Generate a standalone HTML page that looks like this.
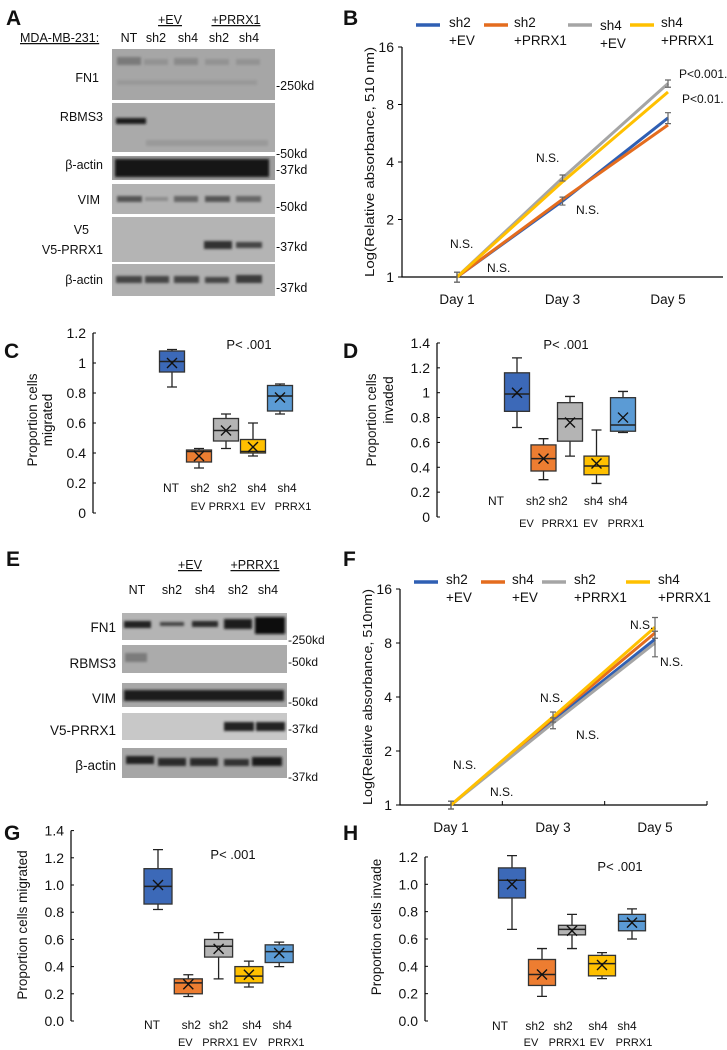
<!DOCTYPE html>
<html><head><meta charset="utf-8"><title>Figure</title>
<style>
html,body{margin:0;padding:0;background:#fff;}
svg{display:block;font-family:"Liberation Sans",sans-serif;}
text{fill:#111;}
</style></head>
<body>
<svg id="fig" width="727" height="1050" viewBox="0 0 727 1050">
<defs><filter id="bl" x="-20%" y="-50%" width="140%" height="200%"><feGaussianBlur stdDeviation="1.4"/></filter></defs>

<g font-weight="bold" font-size="21">
<text x="6" y="25">A</text>
<text x="343" y="25">B</text>
<text x="4" y="358">C</text>
<text x="343" y="358">D</text>
<text x="6" y="566">E</text>
<text x="343" y="566">F</text>
<text x="4" y="840">G</text>
<text x="343" y="840">H</text>
</g>

<g font-size="12.5">
<text x="20" y="42" text-decoration="underline">MDA-MB-231:</text>
<text x="170" y="24" text-anchor="middle" text-decoration="underline">+EV</text>
<text x="236" y="24" text-anchor="middle" text-decoration="underline">+PRRX1</text>
<g text-anchor="middle">
<text x="129" y="42">NT</text><text x="156" y="42">sh2</text><text x="188" y="42">sh4</text><text x="219" y="42">sh2</text><text x="249" y="42">sh4</text></g>
<g text-anchor="end">
<text x="99" y="82">FN1</text><text x="103" y="121">RBMS3</text><text x="103" y="169">β-actin</text><text x="100" y="204">VIM</text><text x="89" y="234">V5</text><text x="103" y="254">V5-PRRX1</text><text x="103" y="284">β-actin</text></g>
<g>
<text x="276" y="90">-250kd</text><text x="276" y="158">-50kd</text><text x="276" y="174">-37kd</text><text x="276" y="211">-50kd</text><text x="276" y="251">-37kd</text><text x="276" y="292">-37kd</text></g>
<rect x="112" y="49" width="163" height="51" fill="#a6a6a6"/>
<rect x="112" y="103" width="163" height="49" fill="#aaaaaa"/>
<rect x="112" y="156" width="163" height="24" fill="#9c9c9c"/>
<rect x="112" y="184" width="163" height="30" fill="#b2b2b2"/>
<rect x="112" y="217" width="163" height="45" fill="#b4b4b4"/>
<rect x="112" y="264" width="163" height="32" fill="#b0b0b0"/>
<g filter="url(#bl)">
<rect x="117" y="57" width="24" height="8" fill="#7a7a7a"/><rect x="144" y="59" width="24" height="6" fill="#939393"/><rect x="174" y="58" width="24" height="7" fill="#8a8a8a"/><rect x="205" y="59" width="24" height="6" fill="#939393"/><rect x="236" y="59" width="24" height="6" fill="#939393"/>
<rect x="117" y="80" width="140" height="5" fill="#999"/>
<rect x="116" y="118" width="30" height="6" fill="#1e1e1e"/>
<rect x="146" y="140" width="122" height="6" fill="#9a9a9a"/>
<rect x="115" y="159" width="154" height="18" fill="#141414"/>
<rect x="117" y="196" width="25" height="6" fill="#555"/><rect x="145" y="197" width="23" height="4" fill="#8c8c8c"/><rect x="174" y="196" width="24" height="6" fill="#666"/><rect x="205" y="196" width="25" height="6" fill="#555"/><rect x="236" y="196" width="25" height="6" fill="#666"/>
<rect x="204" y="241" width="28" height="8" fill="#333"/><rect x="236" y="242" width="26" height="6" fill="#444"/>
<rect x="116" y="276" width="26" height="7" fill="#444"/><rect x="145" y="276" width="24" height="7" fill="#444"/><rect x="174" y="276" width="25" height="7" fill="#444"/><rect x="205" y="277" width="24" height="6" fill="#444"/><rect x="236" y="275" width="26" height="8" fill="#3a3a3a"/>
</g>
</g>

<g font-size="12.5">
<text x="190" y="569" text-anchor="middle" text-decoration="underline">+EV</text>
<text x="255" y="569" text-anchor="middle" text-decoration="underline">+PRRX1</text>
<g text-anchor="middle">
<text x="137" y="594">NT</text><text x="172" y="594">sh2</text><text x="205" y="594">sh4</text><text x="238" y="594">sh2</text><text x="268" y="594">sh4</text></g>
<g text-anchor="end" font-size="13.5">
<text x="116" y="632">FN1</text><text x="116" y="668">RBMS3</text><text x="116" y="703">VIM</text><text x="116" y="735">V5-PRRX1</text><text x="116" y="770">β-actin</text></g>
<g font-size="12">
<text x="288" y="644">-250kd</text><text x="288" y="666">-50kd</text><text x="288" y="706">-50kd</text><text x="288" y="733">-37kd</text><text x="288" y="781">-37kd</text></g>
<rect x="122" y="613" width="165" height="27" fill="#b4b4b4"/>
<rect x="122" y="645" width="165" height="28" fill="#ababab"/>
<rect x="122" y="683" width="165" height="24" fill="#a8a8a8"/>
<rect x="122" y="713" width="165" height="27" fill="#c8c8c8"/>
<rect x="122" y="748" width="165" height="30" fill="#a6a6a6"/>
<g filter="url(#bl)">
<rect x="124" y="621" width="27" height="7" fill="#222"/><rect x="160" y="622" width="24" height="4" fill="#444"/><rect x="192" y="621" width="26" height="6" fill="#2a2a2a"/><rect x="224" y="619" width="28" height="10" fill="#1a1a1a"/><rect x="255" y="617" width="30" height="17" fill="#111"/>
<rect x="125" y="653" width="22" height="9" fill="#7c7c7c"/>
<rect x="124" y="690" width="160" height="11" fill="#1a1a1a"/>
<rect x="224" y="722" width="30" height="9" fill="#222"/><rect x="256" y="722" width="29" height="9" fill="#222"/>
<rect x="126" y="756" width="28" height="8" fill="#222"/><rect x="158" y="758" width="28" height="8" fill="#2a2a2a"/><rect x="190" y="758" width="28" height="8" fill="#2a2a2a"/><rect x="224" y="759" width="25" height="7" fill="#333"/><rect x="252" y="757" width="30" height="9" fill="#1e1e1e"/>
</g>
</g>

<g id="charts"></g>
</svg>

<script>
// ---------- Panel B data ----------
const daysB = ["Day 1", "Day 3", "Day 5"];
const seriesNamesB = ["sh2|+EV", "sh2|+PRRX1", "sh4|+EV", "sh4|+PRRX1"];
const sh2EvB = [1, 2.5, 6.8];
const sh2PrrxB = [1, 2.55, 6.25];
const sh4EvB = [1, 3.3, 10.3];
const sh4PrrxB = [1, 3.15, 9.3];
const errB = [0.06, 0.12, 0.45];
const yTicksB = [1, 2, 4, 8, 16];

// ---------- Panel F data ----------
const daysF = ["Day 1", "Day 3", "Day 5"];
const seriesNamesF = ["sh2|+EV", "sh4|+EV", "sh2|+PRRX1", "sh4|+PRRX1"];
const sh2EvF = [1, 2.95, 8.4];
const sh4EvF = [1, 3.05, 9.1];
const sh2PrrxF = [1, 2.86, 8.0];
const sh4PrrxF = [1, 3.1, 9.8];
const errF = [0.05, 0.2, 1.3];
const yTicksF = [1, 2, 4, 8, 16];

// ---------- Box plot data ----------
const boxCats = ["NT|", "sh2|EV", "sh2|PRRX1", "sh4|EV", "sh4|PRRX1"];
const cMin = [0.84, 0.30, 0.43, 0.38, 0.66];
const cQ1 = [0.94, 0.34, 0.48, 0.40, 0.68];
const cMed = [1.01, 0.41, 0.55, 0.41, 0.78];
const cQ3 = [1.08, 0.42, 0.63, 0.49, 0.85];
const cMax = [1.09, 0.43, 0.66, 0.60, 0.86];
const cMean = [1.0, 0.38, 0.55, 0.44, 0.77];
const cTicks = ["0", "0.2", "0.4", "0.6", "0.8", "1", "1.2"];

const dMin = [0.72, 0.30, 0.49, 0.27, 0.68];
const dQ1 = [0.85, 0.37, 0.61, 0.34, 0.69];
const dMed = [0.99, 0.47, 0.79, 0.41, 0.74];
const dQ3 = [1.16, 0.58, 0.92, 0.49, 0.96];
const dMax = [1.28, 0.63, 0.97, 0.70, 1.01];
const dMean = [1.0, 0.47, 0.76, 0.43, 0.80];
const dTicks = ["0", "0.2", "0.4", "0.6", "0.8", "1", "1.2", "1.4"];

const gMin = [0.82, 0.18, 0.31, 0.25, 0.40];
const gQ1 = [0.86, 0.20, 0.47, 0.28, 0.43];
const gMed = [0.99, 0.28, 0.55, 0.33, 0.51];
const gQ3 = [1.12, 0.31, 0.60, 0.40, 0.56];
const gMax = [1.26, 0.34, 0.65, 0.44, 0.58];
const gMean = [1.0, 0.27, 0.53, 0.34, 0.50];
const gTicks = ["0.0", "0.2", "0.4", "0.6", "0.8", "1.0", "1.2", "1.4"];

const hMin = [0.67, 0.18, 0.53, 0.31, 0.60];
const hQ1 = [0.90, 0.26, 0.63, 0.33, 0.66];
const hMed = [1.03, 0.34, 0.67, 0.42, 0.73];
const hQ3 = [1.12, 0.45, 0.70, 0.48, 0.78];
const hMax = [1.21, 0.53, 0.78, 0.50, 0.82];
const hMean = [1.0, 0.34, 0.66, 0.41, 0.72];
const hTicks = ["0.0", "0.2", "0.4", "0.6", "0.8", "1.0", "1.2"];

const NS = "http://www.w3.org/2000/svg";
const root = document.getElementById('charts');
function mk(tag, attrs, parent) {
  const e = document.createElementNS(NS, tag);
  for (const k in attrs) e.setAttribute(k, attrs[k]);
  (parent || root).appendChild(e);
  return e;
}
function txt(str, attrs, parent) {
  const e = mk('text', attrs, parent);
  e.textContent = str;
  return e;
}

function lineChart(o) {
  const g = mk('g', {});
  
  
  const ys = v => o.y1 - Math.log2(v) * o.ppd;
  const xs = i => o.x0 + i * o.dx;
  const ax = mk('path', {d: `M${o.ax},${ys(o.ticks[o.ticks.length-1])}V${o.y1}H${o.axEnd}`, stroke: '#000', fill: 'none', 'stroke-width': 1.2}, g);
  
  
  o.ticks.forEach(t => {
    mk('line', {x1: o.ax - 4, x2: o.ax, y1: ys(t), y2: ys(t), stroke: '#000'}, g);
    const tl = txt(String(t), {x: o.ax - 8, y: ys(t) + 5, 'text-anchor': 'end', 'font-size': 14}, g);
    
    
  });
  if (o.xTicks) for (let i = 1; i <= 3; i++) mk('line', {x1: o.ax + i*(o.axEnd-o.ax)/3, x2: o.ax + i*(o.axEnd-o.ax)/3, y1: o.y1 - 4, y2: o.y1, stroke: '#000'}, g);
  o.days.forEach((d, i) => {
    const t = txt(d, {x: xs(i), y: o.y1 + 27, 'text-anchor': 'middle', 'font-size': 13.5}, g);
    
    
  });
  const yl = txt(o.ylabel, {transform: `translate(${o.ylx},${(ys(16)+o.y1)/2}) rotate(-90)`, 'text-anchor': 'middle', 'font-size': 13, textLength: o.y1 - ys(16), lengthAdjust: 'spacingAndGlyphs'}, g);
  
  
  o.series.forEach((s, si) => {
    const pts = s.map((v, i) => `${xs(i)},${ys(v)}`).join(' ');
    const pl = mk('polyline', {points: pts, fill: 'none', stroke: o.colors[si], 'stroke-width': 3}, g);
    
    
  });
  o.errIdx.forEach(si => {
    o.series[si].forEach((v, i) => {
      const e = o.err[i];
      const eb = mk('path', {d: `M${xs(i)-3},${ys(v+e)}H${xs(i)+3}M${xs(i)},${ys(v+e)}V${ys(Math.max(v-e,0.5))}M${xs(i)-3},${ys(Math.max(v-e,0.5))}H${xs(i)+3}`, stroke: '#666', 'stroke-width': 1.2, fill: 'none'}, g);
      
      
    });
  });
  o.legend.forEach((lg, i) => {
    const lgg = mk('g', {}, g);
    
    
    mk('line', {x1: lg[0], x2: lg[0] + 24, y1: o.legY, y2: o.legY, stroke: o.colors[i], 'stroke-width': 3.5}, lgg);
    const parts = o.names[i].split('|');
    txt(parts[0], {x: lg[1], y: o.legY + 2 + lg[2], 'font-size': 13.5}, lgg);
    txt(parts[1], {x: lg[1], y: o.legY + 20 + lg[2], 'font-size': 13.5}, lgg);
  });
  o.notes.forEach(n => {
    const t = txt(n[0], {x: n[1], y: n[2], 'font-size': 12}, g);
    
    
  });
}

lineChart({name: 'panel-b-growth-chart', ax: 402, axEnd: 723, y1: 277, ppd: 57.5, x0: 457, dx: 105.5,
  ticks: yTicksB, days: daysB, ylabel: 'Log(Relative absorbance, 510 nm)', ylx: 374,
  series: [sh2EvB, sh2PrrxB, sh4EvB, sh4PrrxB], names: seriesNamesB,
  colors: ['#2f5fb3', '#e46c1e', '#a5a5a5', '#ffc000'], err: errB, errIdx: [0, 2],
  legY: 25, legend: [[416, 449, 0], [484, 514, 0], [568, 600, 3], [630, 661, 0]],
  notes: [['N.S.', 536, 162], ['N.S.', 576, 214], ['N.S.', 450, 248], ['N.S.', 487, 272], ['P<0.001.', 679, 78], ['P<0.01.', 682, 103]]});

lineChart({name: 'panel-f-growth-chart', ax: 400, axEnd: 707, y1: 805, ppd: 54, x0: 451, dx: 102, xTicks: true,
  ticks: yTicksF, days: daysF, ylabel: 'Log(Relative absorbance, 510nm)', ylx: 372,
  series: [sh2EvF, sh4EvF, sh2PrrxF, sh4PrrxF], names: seriesNamesF,
  colors: ['#2f5fb3', '#e46c1e', '#a5a5a5', '#ffc000'], err: errF, errIdx: [2, 3],
  legY: 582, legend: [[414, 446, 0], [481, 512, 0], [542, 574, 0], [626, 658, 0]],
  notes: [['N.S.', 630, 629], ['N.S.', 660, 666], ['N.S.', 540, 702], ['N.S.', 576, 739], ['N.S.', 453, 769], ['N.S.', 490, 796]]});

const boxColors = ['#3c69b8', '#ed7d31', '#b4b4b4', '#ffc000', '#5b9bd5'];
function boxChart(o) {
  const g = mk('g', {});
  
  
  const ys = v => o.y0 - v * o.ppu;
  const xs = i => o.cx0 + i * o.step;
  const top = ys(parseFloat(o.ticks[o.ticks.length - 1]));
  const ax = mk('line', {x1: o.ax, x2: o.ax, y1: top, y2: o.y0, stroke: '#000', 'stroke-width': 1.2}, g);
  
  
  o.ticks.forEach(t => {
    const v = parseFloat(t);
    mk('line', {x1: o.ax, x2: o.ax + 3, y1: ys(v), y2: ys(v), stroke: '#000'}, g);
    const tl = txt(t, {x: o.ax - 7, y: ys(v) + 5, 'text-anchor': 'end', 'font-size': 14}, g);
    
    
  });
  o.ylabels.forEach(l => {
    const t = txt(l[0], {transform: `translate(${l[1]},${l[2]}) rotate(-90)`, 'text-anchor': 'middle', 'font-size': 13.5}, g);
    
    
  });
  const p = txt('P< .001', {x: o.px, y: o.py, 'text-anchor': 'middle', 'font-size': 13}, g);
  
  
  boxCats.forEach((c, i) => {
    const cx = xs(i), hw = o.bw / 2;
    const bg = mk('g', {}, g);
    
    
    mk('path', {d: `M${cx},${ys(o.max[i])}V${ys(o.q3[i])}M${cx},${ys(o.q1[i])}V${ys(o.min[i])}M${cx-5},${ys(o.max[i])}H${cx+5}M${cx-5},${ys(o.min[i])}H${cx+5}`, stroke: '#222', 'stroke-width': 1.3, fill: 'none'}, bg);
    mk('rect', {x: cx - hw, y: ys(o.q3[i]), width: o.bw, height: ys(o.q1[i]) - ys(o.q3[i]), fill: boxColors[i], stroke: '#333', 'stroke-width': 1.3}, bg);
    mk('line', {x1: cx - hw, x2: cx + hw, y1: ys(o.med[i]), y2: ys(o.med[i]), stroke: '#222', 'stroke-width': 1.5}, bg);
    const my = ys(o.mean[i]);
    mk('path', {d: `M${cx-5},${my-5}L${cx+5},${my+5}M${cx-5},${my+5}L${cx+5},${my-5}`, stroke: '#111', 'stroke-width': 1.4}, bg);
    const parts = c.split('|');
    const lx = cx + o.lab[i];
    const l1 = txt(parts[0], {x: lx, y: o.ly1, 'text-anchor': 'middle', 'font-size': 12}, g);
    
    
    if (parts[1]) {
      const l2 = txt(parts[1], {x: lx + o.lab2[i], y: o.ly2, 'text-anchor': 'middle', 'font-size': 11}, g);
      
      
    }
  });
}

boxChart({name: 'panel-c-migration-boxplot', ax: 93, y0: 513, ppu: 150, cx0: 172, step: 27, bw: 25,
  ticks: cTicks, min: cMin, q1: cQ1, med: cMed, q3: cQ3, max: cMax, mean: cMean,
  ylabels: [['Proportion cells', 37, 420], ['migrated', 52, 420]], px: 249, py: 349,
  lab: [-1, 1, 1, 4, 7], lab2: [-4, -2, 0, 1, 6], ly1: 492, ly2: 510});
boxChart({name: 'panel-d-invasion-boxplot', ax: 437, y0: 517, ppu: 124.3, cx0: 517, step: 26.5, bw: 25,
  ticks: dTicks, min: dMin, q1: dQ1, med: dMed, q3: dQ3, max: dMax, mean: dMean,
  ylabels: [['Proportion cells', 376, 420], ['invaded', 393, 400]], px: 566, py: 349,
  lab: [-21, -8, -12, -3, -5], lab2: [0, -9, 2, -3, 8], ly1: 505, ly2: 527});
boxChart({name: 'panel-g-migration-boxplot', ax: 71, y0: 1021, ppu: 136, cx0: 158, step: 30.3, bw: 28,
  ticks: gTicks, min: gMin, q1: gQ1, med: gMed, q3: gQ3, max: gMax, mean: gMean,
  ylabels: [['Proportion cells migrated', 27, 925]], px: 233, py: 859,
  lab: [-6, 3, 0, 3, 3], lab2: [0, -6, 2, -2, 4], ly1: 1029, ly2: 1046});
boxChart({name: 'panel-h-invasion-boxplot', ax: 425, y0: 1021, ppu: 136.7, cx0: 512, step: 30, bw: 27,
  ticks: hTicks, min: hMin, q1: hQ1, med: hMed, q3: hQ3, max: hMax, mean: hMean,
  ylabels: [['Proportion cells invade', 381, 927]], px: 620, py: 871,
  lab: [-12, -7, -9, -4, -5], lab2: [0, -4, 4, -1, 7], ly1: 1030, ly2: 1046});
</script>
</body></html>
